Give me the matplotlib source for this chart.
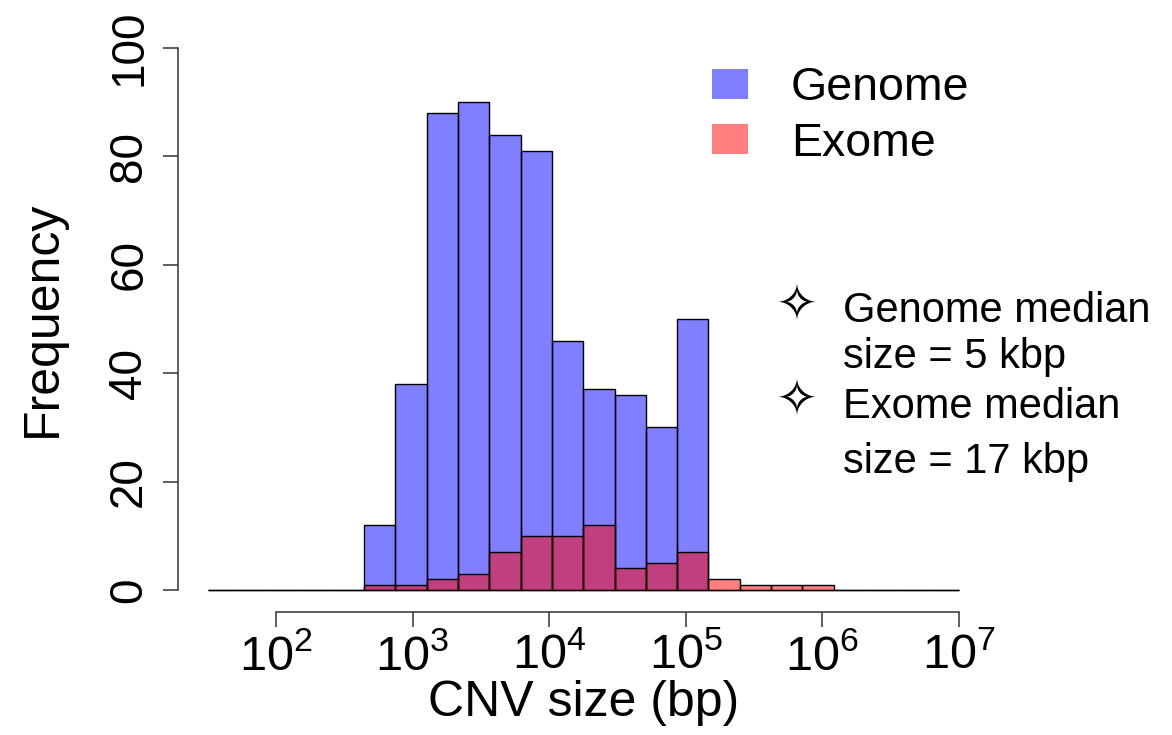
import numpy as np
import matplotlib
matplotlib.use("Agg")
from matplotlib import pyplot as plt

plt.rcParams['font.family'] = ['Liberation Sans', 'DejaVu Sans']
plt.rcParams['mathtext.fontset'] = 'custom'
plt.rcParams['mathtext.rm'] = 'Liberation Sans'

# histogram bins in log10(bp), 24 bins from 1.5 to 7
LOG_MIN = 1.5
LOG_MAX = 7.0
N_BINS = 24

genome_counts = [0, 0, 0, 0, 0, 12, 38, 88, 90, 84, 81, 46,
                 37, 36, 30, 50, 0, 0, 0, 0, 0, 0, 0, 0]
exome_counts = [0, 0, 0, 0, 0, 1, 1, 2, 3, 7, 10, 10,
                12, 4, 5, 7, 2, 1, 1, 1, 0, 0, 0, 0]

xtick_exp = [2, 3, 4, 5, 6, 7]
yticks = [0, 20, 40, 60, 80, 100]

edges = 10 ** np.linspace(LOG_MIN, LOG_MAX, N_BINS + 1)
lefts = edges[:-1]
widths = np.diff(edges)

fig = plt.figure(figsize=(11.72, 7.35), dpi=100)
ax = fig.add_axes([0.1515, 0.1678, 0.6923, 0.7964])

ax.bar(lefts, genome_counts, width=widths, align='edge',
       facecolor=(0, 0, 1, 0.5), edgecolor='black', linewidth=1.0)
ax.bar(lefts, exome_counts, width=widths, align='edge',
       facecolor=(1, 0, 0, 0.5), edgecolor='black', linewidth=1.0)

pad = 0.04 * (LOG_MAX - LOG_MIN)
ax.set_xscale('log')
ax.set_xlim(10 ** (LOG_MIN - pad), 10 ** (LOG_MAX + pad))
ax.set_ylim(-4, 104)

for s in ['top', 'right']:
    ax.spines[s].set_visible(False)
ax.spines['left'].set_bounds(0, 100)
ax.spines['bottom'].set_bounds(10 ** 2, 10 ** 7)
for s in ['left', 'bottom']:
    ax.spines[s].set_linewidth(1.1)
    ax.spines[s].set_color('#333333')

ax.set_xticks([10 ** e for e in xtick_exp])
ax.set_xticklabels([r'$\mathregular{10^{%d}}$' % e for e in xtick_exp])
ax.xaxis.set_minor_locator(matplotlib.ticker.NullLocator())
ax.set_yticks(yticks)
ax.set_yticklabels([str(v) for v in yticks], rotation=90, va='center')
ax.tick_params(axis='both', length=11, width=1.1, color='#333333', pad=8)
ax.tick_params(axis='x', labelsize=35, pad=5)
ax.tick_params(axis='y', labelsize=33)

ax.set_xlabel('CNV size (bp)', fontsize=36, labelpad=0)
ax.set_ylabel('Frequency', fontsize=36, labelpad=30)

# legend
h1 = plt.Rectangle((0, 0), 1, 1, facecolor=(0, 0, 1, 0.5), edgecolor='none')
h2 = plt.Rectangle((0, 0), 1, 1, facecolor=(1, 0, 0, 0.5), edgecolor='none')
fig.legend([h1, h2], ['Genome', 'Exome'], loc='upper left',
           bbox_to_anchor=(0.5717, 0.967), frameon=False, fontsize=33.5,
           handlelength=0.78, handleheight=0.62, handletextpad=0.92,
           labelspacing=0.25)

# median notes
star_x = 0.680
text_x = 0.719
fig.text(star_x, 0.5823, '\u2727', fontsize=36, ha='center', va='center')
fig.text(star_x, 0.4531, '\u2727', fontsize=36, ha='center', va='center')
fig.text(text_x, 0.5619, 'Genome median', fontsize=30, va='baseline')
fig.text(text_x, 0.4993, 'size = 5 kbp', fontsize=30, va='baseline')
fig.text(text_x, 0.4313, 'Exome median', fontsize=30, va='baseline')
fig.text(text_x, 0.3565, 'size = 17 kbp', fontsize=30, va='baseline')

fig.savefig('out.png', dpi=100)
